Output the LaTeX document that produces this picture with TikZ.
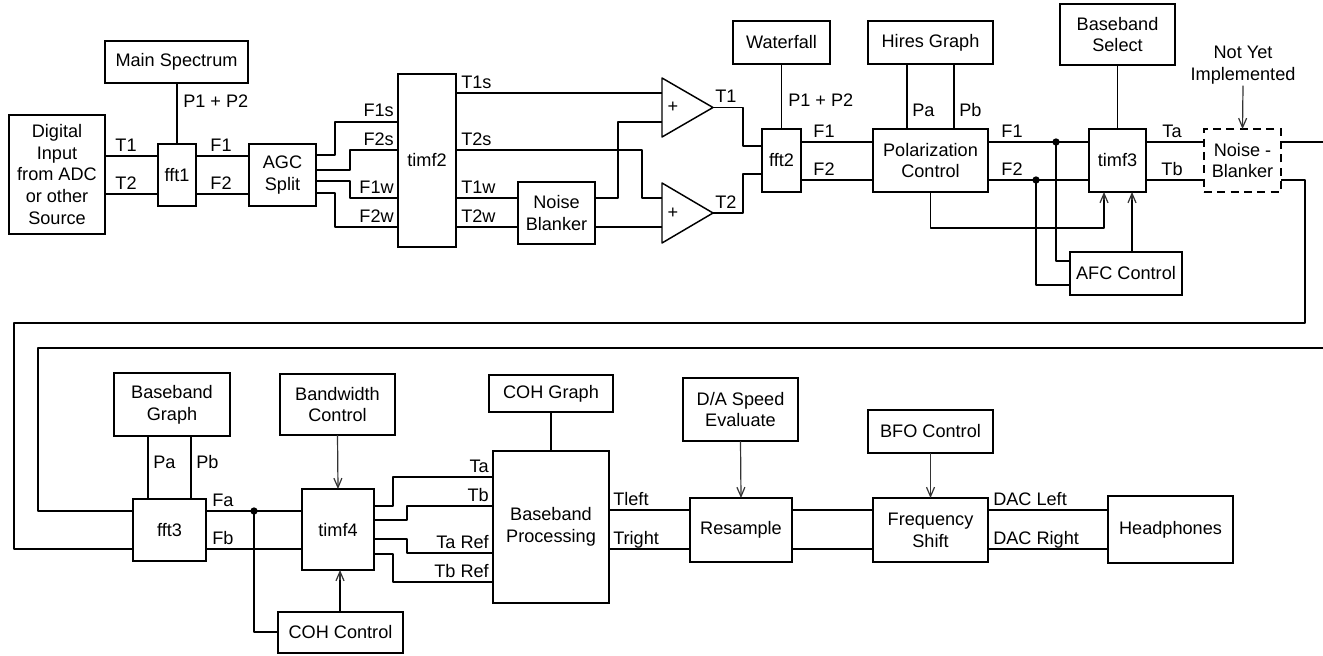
\documentclass[tikz,border=0pt]{standalone}
\usepackage{fontspec}
\setmainfont{Liberation Sans}
\usetikzlibrary{arrows.meta,calc}
\newcommand\blkbox[7]{\node[blk,#6,minimum width={(#4-#2)*0.75pt},minimum height={(#5-#3)*0.75pt}] (#1) at ({(#2+#4)/2},{(#3+#5)/2}) {#7};}
\begin{document}
\begin{tikzpicture}[x=0.75pt,y=-0.75pt,
  font=\fontsize{13.6}{16.3}\selectfont,
  wire/.style={line width=1.1pt, line join=round},
  blk/.style={draw, line width=1.1pt, inner sep=0pt, outer sep=0pt, align=center, fill=white},
  lbl/.style={inner sep=0pt, anchor=base},
  arr/.style={line width=0.9pt, draw=black!80, -{Straight Barb[length=7pt,width=6pt]}},
  jdot/.style={circle, fill, inner sep=0pt, minimum size=5.5pt}
]
\useasboundingbox (0,0) rectangle (1323,656);

% ---------- upper row blocks ----------
\blkbox{dig}{9}{115}{105}{234}{}{Digital\\Input\\from ADC\\or other\\Source}
\blkbox{mspec}{105}{41}{248}{83}{}{Main Spectrum}
\blkbox{fft1}{158}{144}{196}{206}{}{fft1}
\blkbox{agc}{249}{144}{316}{206}{}{AGC\\Split}
\blkbox{timf2}{398}{74}{456}{247}{}{timf2}
\blkbox{nb1}{518}{182}{595}{244}{}{Noise\\Blanker}
\blkbox{waterfall}{733}{21}{830}{64}{}{Waterfall}
\blkbox{fft2}{762}{129}{801}{192}{}{fft2}
\blkbox{hires}{868}{21}{993}{64}{}{Hires Graph}
\blkbox{pol}{873}{129}{988}{192}{}{Polarization\\Control}
\blkbox{bbsel}{1060}{4}{1175}{65}{}{Baseband\\Select}
\blkbox{timf3}{1089}{129}{1146}{192}{}{timf3}
\blkbox{afc}{1070}{252}{1182}{295}{}{AFC Control}
\blkbox{nb2}{1204}{129}{1281}{192}{dashed, dash pattern=on 6pt off 4pt}{Noise -\\Blanker}
\node[inner sep=1pt, align=center] (nyi) at (1243,65) {Not Yet\\Implemented};

% amplifiers
\draw[wire] (662,78) -- (713,107.5) -- (662,137) -- cycle;
\draw[wire] (662,183) -- (713,213) -- (662,243) -- cycle;
\node[inner sep=0pt] (amp1) at (673,107) {+};
\node[inner sep=0pt] (amp2) at (673,213) {+};
\coordinate (amp1tip) at (713,107.5);
\coordinate (amp2tip) at (713,213);
\coordinate (amp1in1) at (662,93);
\coordinate (amp1in2) at (662,122);
\coordinate (amp2in1) at (662,198);
\coordinate (amp2in2) at (662,227);

% ---------- lower row blocks ----------
\blkbox{bbgraph}{114}{373}{230}{436}{}{Baseband\\Graph}
\blkbox{fft3}{133}{499}{206}{561}{}{fft3}
\blkbox{bw}{280}{374}{395}{435}{}{Bandwidth\\Control}
\blkbox{timf4}{302}{489}{374}{570}{}{timf4}
\blkbox{cohc}{278}{612}{403}{653}{}{COH Control}
\blkbox{cohg}{489}{375}{613}{412}{}{COH Graph}
\blkbox{bp}{493}{451}{609}{603}{}{Baseband\\Processing}
\blkbox{da}{683}{378}{798}{441}{}{D/A Speed\\Evaluate}
\blkbox{res}{690}{498}{792}{562}{}{Resample}
\blkbox{bfo}{868}{410}{993}{453}{}{BFO Control}
\blkbox{fs}{873}{498}{988}{562}{}{Frequency\\Shift}
\blkbox{hp}{1108}{496}{1233}{563}{}{Headphones}

% junction dots and off-page ends
\node[jdot] (j1) at (1056,142) {};
\node[jdot] (j2) at (1036,180) {};
\node[jdot] (j3) at (254,511) {};
\coordinate (offR1) at (1323,142);
\coordinate (offR2) at (1323,348);

% ---------- upper row wires ----------
\draw[wire] (dig.east |- 0,156) -- (fft1.west |- 0,156);
\draw[wire] (dig.east |- 0,194) -- (fft1.west |- 0,194);
\draw[wire] (mspec.south -| 177,0) -- (fft1.north -| 177,0);
\draw[wire] (fft1.east |- 0,156) -- (agc.west |- 0,156);
\draw[wire] (fft1.east |- 0,194) -- (agc.west |- 0,194);

\draw[wire] (agc.east |- 0,155) -- (335,155) -- (335,122) -- (timf2.west |- 0,122);
\draw[wire] (agc.east |- 0,170) -- (350,170) -- (350,150) -- (timf2.west |- 0,150);
\draw[wire] (agc.east |- 0,181) -- (350,181) -- (350,198) -- (timf2.west |- 0,198);
\draw[wire] (agc.east |- 0,193) -- (335,193) -- (335,227) -- (timf2.west |- 0,227);

\draw[wire] (timf2.east |- 0,93) -- (amp1in1);
\draw[wire] (timf2.east |- 0,150) -- (642,150) -- (642,198) -- (amp2in1);
\draw[wire] (timf2.east |- 0,198) -- (nb1.west |- 0,198);
\draw[wire] (timf2.east |- 0,227) -- (nb1.west |- 0,227);
\draw[wire] (nb1.east |- 0,198) -- (618,198) -- (618,122) -- (amp1in2);
\draw[wire] (nb1.east |- 0,227) -- (amp2in2);

\draw[wire] (amp1tip) -- (743,107.5) -- (743,146) -- (fft2.west |- 0,146);
\draw[wire] (amp2tip) -- (743,213) -- (743,174) -- (fft2.west |- 0,174);
\draw[wire] (waterfall.south) -- (fft2.north);
\draw[wire] (fft2.east |- 0,142) -- (pol.west |- 0,142);
\draw[wire] (fft2.east |- 0,180) -- (pol.west |- 0,180);
\draw[wire] (hires.south -| 907,0) -- (pol.north -| 907,0);
\draw[wire] (hires.south -| 954,0) -- (pol.north -| 954,0);

\draw[wire] (pol.east |- 0,142) -- (timf3.west |- 0,142);
\draw[wire] (pol.east |- 0,180) -- (timf3.west |- 0,180);
\draw[wire] (j1.center) -- (1056,261) -- (afc.west |- 0,261);
\draw[wire] (j2.center) -- (1036,285) -- (afc.west |- 0,285);
\draw[wire] (pol.south) -- (930.5,228) -- (1104,228) -- (1104,200);
\draw[arr] (1104,200) -- (timf3.south -| 1104,0);
\draw[wire] (afc.north -| 1132,0) -- (1132,200);
\draw[arr] (1132,200) -- (timf3.south -| 1132,0);
\draw[wire] (bbsel.south) -- (timf3.north);
\draw[wire] (timf3.east |- 0,142) -- (nb2.west |- 0,142);
\draw[wire] (timf3.east |- 0,180) -- (nb2.west |- 0,180);
\draw[arr] (nyi.south) -- (nb2.north);

\draw[wire] (nb2.east |- 0,142) -- (offR1);
\draw[wire] (nb2.east |- 0,180) -| (1305,323) -| (14,549) -- (fft3.west |- 0,549);
\draw[wire] (offR2) -| (38,511) -- (fft3.west |- 0,511);

% ---------- lower row wires ----------
\draw[wire] (bbgraph.south -| 148,0) -- (fft3.north -| 148,0);
\draw[wire] (bbgraph.south -| 191,0) -- (fft3.north -| 191,0);
\draw[wire] (fft3.east |- 0,511) -- (timf4.west |- 0,511);
\draw[wire] (fft3.east |- 0,549) -- (timf4.west |- 0,549);
\draw[wire] (j3.center) -- (254,632) -- (cohc.west |- 0,632);
\draw[arr] (bw.south) -- (timf4.north);
\draw[wire] (cohc.north -| 340,0) -- (340,580);
\draw[arr] (340,580) -- (timf4.south -| 340,0);

\draw[wire] (timf4.east |- 0,506) -- (393,506) -- (393,477) -- (bp.west |- 0,477);
\draw[wire] (timf4.east |- 0,520) -- (407,520) -- (407,506) -- (bp.west |- 0,506);
\draw[wire] (timf4.east |- 0,539) -- (407,539) -- (407,553) -- (bp.west |- 0,553);
\draw[wire] (timf4.east |- 0,554) -- (393,554) -- (393,582) -- (bp.west |- 0,582);
\draw[wire] (cohg.south) -- (bp.north);

\draw[wire] (bp.east |- 0,510) -- (res.west |- 0,510);
\draw[wire] (bp.east |- 0,549) -- (res.west |- 0,549);
\draw[arr] (da.south) -- (res.north);
\draw[wire] (res.east |- 0,510) -- (fs.west |- 0,510);
\draw[wire] (res.east |- 0,549) -- (fs.west |- 0,549);
\draw[arr] (bfo.south) -- (fs.north);
\draw[wire] (fs.east |- 0,510) -- (hp.west |- 0,510);
\draw[wire] (fs.east |- 0,549) -- (hp.west |- 0,549);

% ---------- connector labels ----------
\node[lbl] (lT1) at (126,151.5) {T1};
\node[lbl] (lT2) at (126,189.5) {T2};
\node[lbl, anchor=base west] (lP12a) at (183,108) {P1 + P2};
\node[lbl] (lF1a) at (221,151.5) {F1};
\node[lbl] (lF2a) at (221,189.5) {F2};
\node[lbl, anchor=base east] (lF1s) at (394,117) {F1s};
\node[lbl, anchor=base east] (lF2s) at (394,145.5) {F2s};
\node[lbl, anchor=base east] (lF1w) at (394,193.5) {F1w};
\node[lbl, anchor=base east] (lF2w) at (394,222.5) {F2w};
\node[lbl, anchor=base west] (lT1s) at (461,88.5) {T1s};
\node[lbl, anchor=base west] (lT2s) at (461,145.5) {T2s};
\node[lbl, anchor=base west] (lT1w) at (461,193.5) {T1w};
\node[lbl, anchor=base west] (lT2w) at (461,222.5) {T2w};
\node[lbl, anchor=base west] (lT1b) at (715,103) {T1};
\node[lbl, anchor=base west] (lT2b) at (715,208) {T2};
\node[lbl, anchor=base west] (lP12b) at (788,107) {P1 + P2};
\node[lbl] (lF1b) at (824,137.5) {F1};
\node[lbl] (lF2b) at (824,175.5) {F2};
\node[lbl, anchor=base west] (lPa1) at (912,117) {Pa};
\node[lbl, anchor=base west] (lPb1) at (959,117) {Pb};
\node[lbl] (lF1c) at (1012,137.5) {F1};
\node[lbl] (lF2c) at (1012,175.5) {F2};
\node[lbl] (lTa1) at (1172,137.5) {Ta};
\node[lbl] (lTb1) at (1172,175.5) {Tb};

\node[lbl, anchor=base west] (lPa2) at (153,468) {Pa};
\node[lbl, anchor=base west] (lPb2) at (196,468) {Pb};
\node[lbl, anchor=base west] (lFa) at (212,506) {Fa};
\node[lbl, anchor=base west] (lFb) at (212,544) {Fb};
\node[lbl, anchor=base east] (lTa2) at (489,472.5) {Ta};
\node[lbl, anchor=base east] (lTb2) at (489,501.5) {Tb};
\node[lbl, anchor=base east] (lTaR) at (489,548.5) {Ta Ref};
\node[lbl, anchor=base east] (lTbR) at (489,577.5) {Tb Ref};
\node[lbl, anchor=base west] (lTl) at (613,505.5) {Tleft};
\node[lbl, anchor=base west] (lTr) at (613,544.5) {Tright};
\node[lbl, anchor=base west] (lDL) at (993,505.5) {DAC Left};
\node[lbl, anchor=base west] (lDR) at (993,544.5) {DAC Right};
\end{tikzpicture}
\end{document}
